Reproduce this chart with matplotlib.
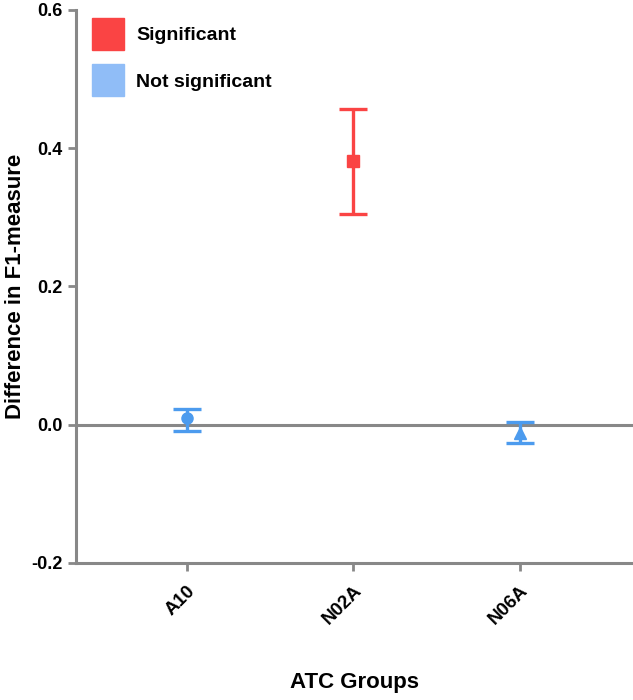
import matplotlib.pyplot as plt
import matplotlib.patches as mpatches

plt.rcParams['font.family'] = ['Liberation Sans', 'DejaVu Sans']
plt.rcParams['font.weight'] = 'bold'

groups = ['A10', 'N02A', 'N06A']
diff = [0.009, 0.381, -0.012]
lower = [-0.009, 0.304, -0.026]
upper = [0.023, 0.457, 0.004]
significant = [False, True, False]
markers = ['o', 's', '^']

red = '#FA4444'
blue = '#4C9BEE'
legend_blue = '#90BDF7'
gray = '#888888'

fig = plt.figure(figsize=(6.33, 7.0), dpi=100)
ax = fig.add_axes([0.12, 0.196, 0.88, 0.790])

ax.axhline(0, color=gray, lw=2.2, zorder=1)

for i, g in enumerate(groups):
    c = red if significant[i] else blue
    x = i + 1
    ax.errorbar([x], [diff[i]],
                yerr=[[diff[i] - lower[i]], [upper[i] - diff[i]]],
                fmt=markers[i], color=c, ms=8, elinewidth=2.4,
                capsize=10, capthick=2.4, zorder=3)

ax.set_xlim(1 / 3, 3.68)
ax.set_ylim(-0.2, 0.6)
ax.set_yticks([-0.2, 0.0, 0.2, 0.4, 0.6])
ax.set_yticklabels(['-0.2', '0.0', '0.2', '0.4', '0.6'], fontsize=13, fontweight='bold')
ax.set_xticks([1, 2, 3])
ax.set_xticklabels(groups, rotation=45, ha='right', rotation_mode='anchor',
                   fontsize=13.5, fontweight='bold')

for s in ['top', 'right']:
    ax.spines[s].set_visible(False)
for s in ['left', 'bottom']:
    ax.spines[s].set_color(gray)
    ax.spines[s].set_linewidth(2.2)
ax.tick_params(axis='both', colors=gray, width=2, length=6, labelcolor='black')
ax.tick_params(axis='x', pad=8)

ax.set_ylabel('Difference in F1-measure', fontsize=16, fontweight='bold', labelpad=4)
ax.set_xlabel('ATC Groups', fontsize=16, fontweight='bold', labelpad=32)

handles = [mpatches.Patch(color=red, label='Significant'),
           mpatches.Patch(color=legend_blue, label='Not significant')]
ax.legend(handles=handles, loc='upper left', bbox_to_anchor=(0.0147, 1.0),
          borderaxespad=0, frameon=False, handlelength=1.65, handleheight=2.15,
          prop={'size': 14, 'weight': 'bold'}, labelspacing=0.77, handletextpad=0.62)

fig.savefig('out.png', dpi=100)
